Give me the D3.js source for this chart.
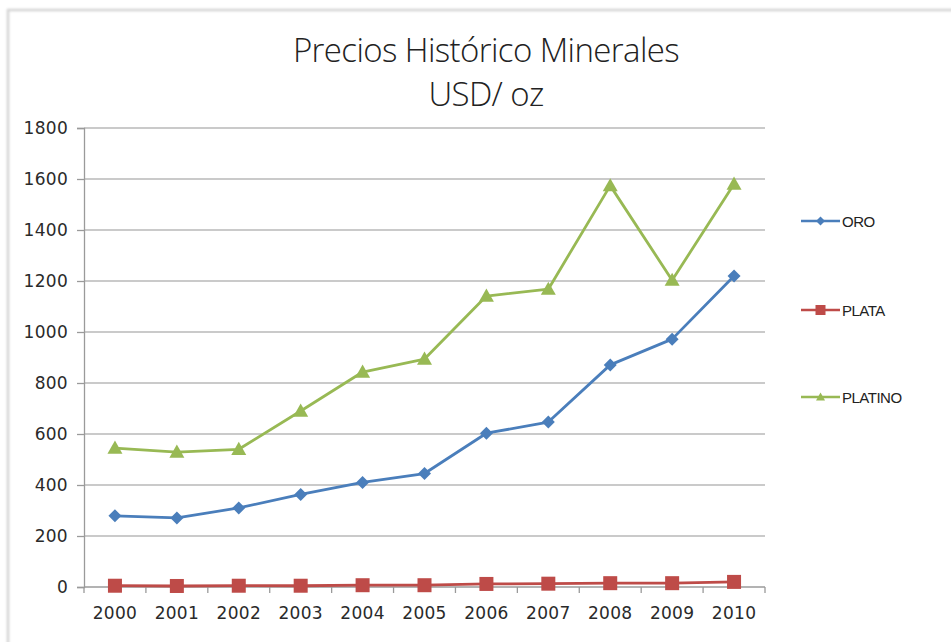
<!DOCTYPE html>
<html>
<head>
<meta charset="utf-8">
<script src="https://cdn.jsdelivr.net/npm/d3@7"></script>
<style>
  html, body { margin: 0; padding: 0; background: #fff; }
  svg { display: block; }
</style>
</head>
<body>
<svg id="chart" width="951" height="642"></svg>
<script>
// Historical mineral prices, USD per ounce
const years = ["2000","2001","2002","2003","2004","2005","2006","2007","2008","2009","2010"];
const oro     = [279, 271, 310, 363, 410, 445, 603, 647, 871, 972, 1220];
const plata   = [5, 4, 5, 5, 7, 7, 12, 13, 15, 15, 20];
const platino = [545, 529, 540, 690, 843, 894, 1141, 1168, 1574, 1203, 1580];
const yTicks  = [0, 200, 400, 600, 800, 1000, 1200, 1400, 1600, 1800];

const seriesNames  = ["ORO", "PLATA", "PLATINO"];
const seriesColors = ["#4a7ebb", "#be4b48", "#98b954"];
const seriesValues = [oro, plata, platino];

const svg = d3.select("#chart");

// outer frame (top and left soft edges)
svg.append("rect").attr("x", 8).attr("y", 10).attr("width", 960).attr("height", 640)
  .attr("fill", "none").attr("stroke", "#d4d4d4").attr("stroke-width", 2.5)
  .style("filter", "blur(0.8px)");

const plot = { left: 84, right: 765, top: 128, bottom: 587 };

const x = d3.scaleBand().domain(years).range([plot.left, plot.right]);
const y = d3.scaleLinear().domain([0, 1800]).range([plot.bottom, plot.top]);

// title
const title = svg.append("text").attr("text-anchor", "middle")
  .attr("font-family", "'Open Sans', sans-serif").attr("font-weight", 300)
  .attr("font-size", 33).attr("letter-spacing", -0.6).attr("fill", "#222");
title.append("tspan").attr("x", 486).attr("y", 62).text("Precios Histórico Minerales");
title.append("tspan").attr("x", 486).attr("y", 106).text("USD/ oz");

// gridlines
svg.append("g").selectAll("line").data(yTicks.filter(d => d > 0)).join("line")
  .attr("x1", plot.left).attr("x2", plot.right)
  .attr("y1", d => y(d)).attr("y2", d => y(d))
  .attr("stroke", "#b8b8b8").attr("stroke-width", 1.3);

const tickFont = sel => sel.attr("font-family", "'DejaVu Sans', sans-serif")
  .attr("font-size", 17).attr("letter-spacing", 0.3).attr("fill", "#2a2a2a");

// y axis
const yAxis = svg.append("g").attr("transform", `translate(${plot.left},0)`)
  .call(d3.axisLeft(y).tickValues(yTicks).tickSize(7).tickPadding(9).tickFormat(d3.format("d")));
yAxis.select(".domain").attr("stroke", "#9a9a9a").attr("stroke-width", 1.3);
yAxis.selectAll(".tick line").attr("stroke", "#9a9a9a").attr("stroke-width", 1.3);
yAxis.selectAll("text").call(tickFont);

// x axis with ticks between categories
const xAxis = svg.append("g").attr("transform", `translate(0,${plot.bottom})`);
xAxis.append("line").attr("x1", plot.left).attr("x2", plot.right)
  .attr("stroke", "#9a9a9a").attr("stroke-width", 1.3);
const bounds = years.map(d => x(d)).concat([x(years[years.length - 1]) + x.bandwidth()]);
xAxis.selectAll("line.t").data(bounds).join("line").attr("class", "t")
  .attr("x1", d => d).attr("x2", d => d).attr("y1", 0).attr("y2", 6)
  .attr("stroke", "#9a9a9a").attr("stroke-width", 1.3);
xAxis.selectAll("text").data(years).join("text")
  .attr("x", d => x(d) + x.bandwidth() / 2).attr("y", 32)
  .attr("text-anchor", "middle").call(tickFont).text(d => d);

const cx = d => x(d) + x.bandwidth() / 2;
const line = d3.line().x((d, i) => cx(years[i])).y(d => y(d));

function marker(g, kind, color, px, py, s) {
  if (kind === 0) {
    g.append("path").attr("d", `M${px},${py - s}L${px + s},${py}L${px},${py + s}L${px - s},${py}Z`)
      .attr("fill", color);
  } else if (kind === 1) {
    g.append("rect").attr("x", px - s).attr("y", py - s).attr("width", 2 * s).attr("height", 2 * s)
      .attr("fill", color);
  } else {
    g.append("path").attr("d", `M${px},${py - s}L${px + s},${py + s * 0.75}L${px - s},${py + s * 0.75}Z`)
      .attr("fill", color);
  }
}
const markerSize = [6.5, 7, 7.5];

seriesValues.forEach((vals, k) => {
  const g = svg.append("g");
  g.append("path").datum(vals).attr("d", line)
    .attr("fill", "none").attr("stroke", seriesColors[k]).attr("stroke-width", 2.8)
    .attr("stroke-linejoin", "round");
  vals.forEach((v, i) => marker(g, k, seriesColors[k], cx(years[i]), y(v), markerSize[k]));
});

// legend
const legendY = [221, 310, 397];
seriesNames.forEach((name, k) => {
  const g = svg.append("g");
  g.append("line").attr("x1", 801).attr("x2", 840).attr("y1", legendY[k]).attr("y2", legendY[k])
    .attr("stroke", seriesColors[k]).attr("stroke-width", 2.6);
  marker(g, k, seriesColors[k], 820.5, legendY[k], k === 1 ? 5 : 4.5);
  g.append("text").attr("x", 842).attr("y", legendY[k] + 5.5)
    .attr("font-family", "'Liberation Sans', sans-serif").attr("font-size", 15)
    .attr("letter-spacing", -0.5).attr("fill", "#222").text(name);
});
</script>
</body>
</html>
